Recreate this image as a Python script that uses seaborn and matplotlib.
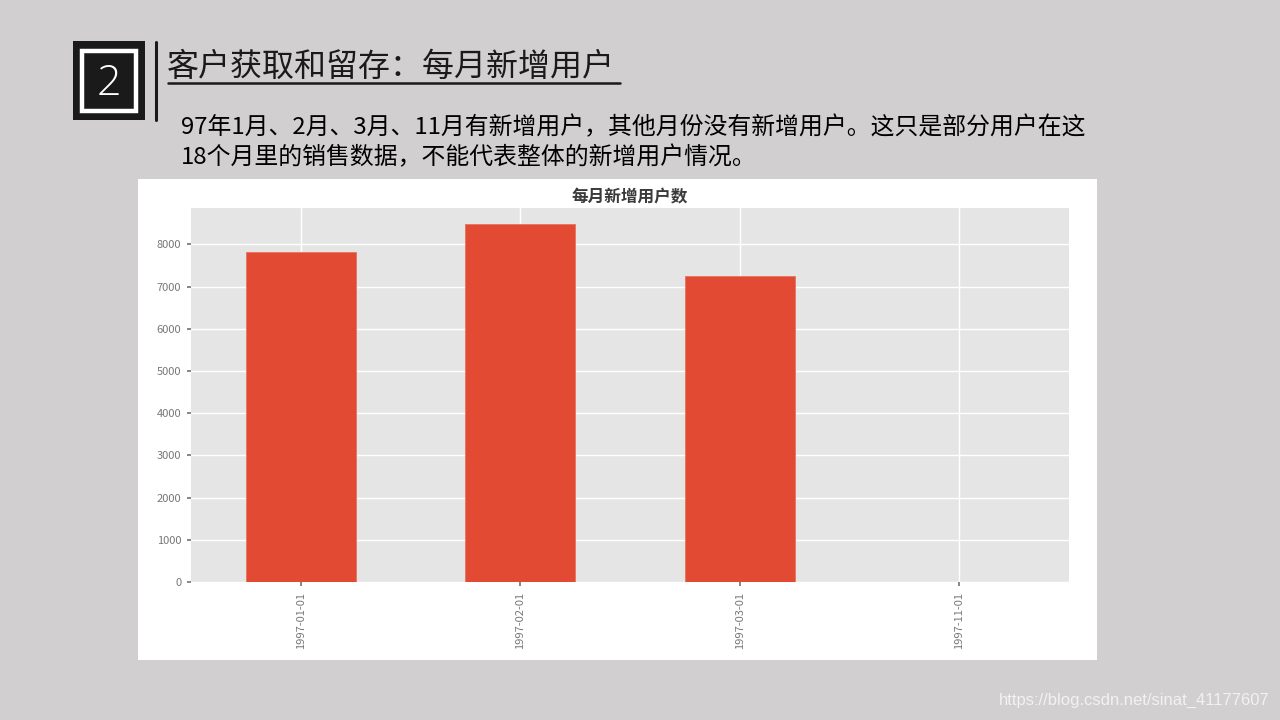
import matplotlib
matplotlib.use("Agg")
import matplotlib.pyplot as plt
from matplotlib.patches import Rectangle
from matplotlib.lines import Line2D
import pandas as pd
import seaborn as sns

# === data ===
months = ["1997-01-01", "1997-02-01", "1997-03-01", "1997-11-01"]
new_users = [7814, 8476, 7248, 2]

heading = "客户获取和留存：每月新增用户"
note_lines = [
    "97年1月、2月、3月、11月有新增用户，其他月份没有新增用户。这只是部分用户在这",
    "18个月里的销售数据，不能代表整体的新增用户情况。",
]
chart_title = "每月新增用户数"
watermark = "https://blog.csdn.net/sinat_41177607"

df = pd.DataFrame({"month": months, "users": new_users})

# === style (ggplot-like) ===
sns.set_theme(style="darkgrid", rc={
    "axes.facecolor": "#E5E5E5",
    "grid.color": "white",
    "grid.linewidth": 1.0,
    "xtick.color": "#777777",
    "ytick.color": "#777777",
    "xtick.bottom": True,
    "ytick.left": True,
    "xtick.major.size": 3,
    "ytick.major.size": 3,
})
plt.rcParams["font.family"] = ["Noto Sans CJK SC", "DejaVu Sans"]

W, H = 1280, 720
fig = plt.figure(figsize=(12.8, 7.2), dpi=100, facecolor="#d1cfd0")


def fx(px):
    return px / W


def fy(py):
    return 1 - py / H


# white panel behind the chart
fig.patches.append(Rectangle((fx(138), fy(660)), fx(1097) - fx(138), fy(179) - fy(660),
                             transform=fig.transFigure, facecolor="white", edgecolor="none", zorder=-5))

# numbered box
fig.patches.append(Rectangle((fx(73), fy(120)), fx(145) - fx(73), fy(41) - fy(120),
                             transform=fig.transFigure, facecolor="#1a1a1a", edgecolor="none"))
fig.patches.append(Rectangle((fx(82), fy(111)), fx(136) - fx(82), fy(51) - fy(111),
                             transform=fig.transFigure, facecolor="none", edgecolor="white", linewidth=3.2))
fig.text(fx(109), fy(84), "2", color="white", fontsize=31, ha="center", va="center",
         family=["Open Sans", "DejaVu Sans"], fontweight="light")
fig.lines.append(Line2D([fx(156), fx(156)], [fy(42), fy(120)], transform=fig.transFigure,
                        color="#1a1a1a", linewidth=2.2))

# heading + underline
fig.text(fx(167), fy(67), heading, fontsize=23, color="#1a1a1a", ha="left", va="center")
fig.lines.append(Line2D([fx(168), fx(620)], [fy(83), fy(83)], transform=fig.transFigure,
                        color="#1a1a1a", linewidth=1.8))

# note text
for i, line in enumerate(note_lines):
    fig.text(fx(181), fy(128 + 30 * i), line, fontsize=17.2, color="black", ha="left", va="center")

# === chart ===
ax = fig.add_axes([fx(191), fy(582), fx(1069) - fx(191), fy(208) - fy(582)])
sns.barplot(data=df, x="month", y="users", color="#E24A33", saturation=1, width=0.5,
            edgecolor="#E8735E", linewidth=0.6, ax=ax)
ax.set_xlim(-0.5, len(months) - 0.5)
ax.set_ylim(0, 8860)
ax.set_yticks(range(0, 9000, 1000))
ax.tick_params(axis="x", labelrotation=90, labelsize=8, pad=4)
ax.tick_params(axis="y", labelsize=8, pad=4)
ax.grid(True, axis="both", color="white", linewidth=1.0)
ax.set_axisbelow(True)
ax.set_xlabel("")
ax.set_ylabel("")
ax.set_title(chart_title, fontsize=12, color="#3a3a3a", fontweight="bold", pad=4)
for s in ax.spines.values():
    s.set_visible(False)

# watermark
fig.text(fx(1270), fy(700), watermark, fontsize=12, color="#f2f2f2", ha="right", va="center",
         family=["Liberation Sans", "DejaVu Sans"])

fig.savefig("out.png", dpi=100, facecolor=fig.get_facecolor())
